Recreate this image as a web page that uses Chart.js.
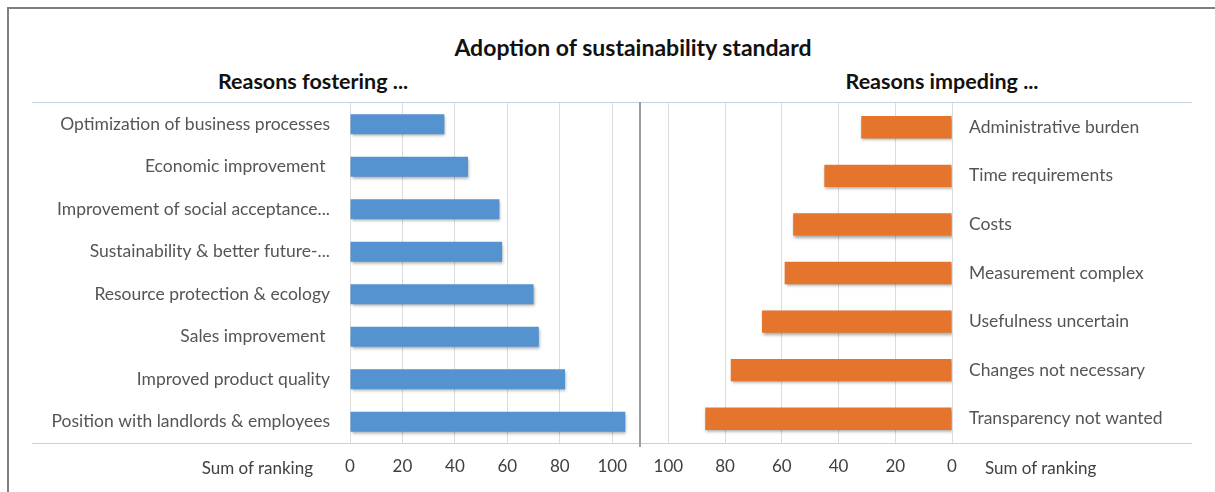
<!DOCTYPE html>
<html>
<head>
<meta charset="utf-8">
<script src="https://cdn.jsdelivr.net/npm/chart.js@4"></script>
<style>
    body { margin: 0; background: #fff; font-family: Lato, sans-serif; }
    #wrap { position: relative; width: 1215px; height: 492px; overflow: hidden; }
    .abs { position: absolute; }
    .frame { border-left: 2px solid #7f7f7f; border-top: 2px solid #7f7f7f; left: 7px; top: 7px; width: 1300px; height: 600px; }
    .hline { height: 1px; background: #c3d3e3; left: 32px; width: 1160px; }
    .head { font-weight: bold; color: #111; white-space: nowrap; transform: translateX(-50%); line-height: 1.2; }
    .axt { font-size: 17px; color: #404040; white-space: nowrap; }
</style>
</head>
<body>
<div id="wrap">
    <div class="abs frame"></div>
    <div class="abs head" style="left:633px; top:34px; font-size:23px;">Adoption of sustainability standard</div>
    <div class="abs head" style="left:313px; top:69px; font-size:21.5px;">Reasons fostering ...</div>
    <div class="abs head" style="left:942px; top:69px; font-size:21.5px;">Reasons impeding ...</div>

    <div class="abs" style="left:0; top:0;"><canvas id="leftChart" width="640" height="492"></canvas></div>
    <div class="abs" style="left:640px; top:0;"><canvas id="rightChart" width="575" height="492"></canvas></div>

    <div class="abs hline" style="top:102px;"></div>
    <div class="abs hline" style="top:443px;"></div>
    <div class="abs" style="left:639px; top:102px; width:2px; height:345px; background:#9d9d9d;"></div>

    <div class="abs axt" style="right:902px; top:457px;">Sum of ranking</div>
    <div class="abs axt" style="left:985px; top:457px;">Sum of ranking</div>
</div>

<script>
    // Data
    const fosterLabels = [
        'Optimization of business processes',
        'Economic improvement ',
        'Improvement of social acceptance...',
        'Sustainability & better future-...',
        'Resource protection & ecology',
        'Sales improvement ',
        'Improved product quality',
        'Position with landlords & employees'
    ];
    const fosterValues = [36, 45, 57, 58, 70, 72, 82, 105];

    const impedeLabels = [
        'Administrative burden',
        'Time requirements',
        'Costs',
        'Measurement complex',
        'Usefulness uncertain',
        'Changes not necessary',
        'Transparency not wanted'
    ];
    const impedeValues = [32, 45, 56, 59, 67, 78, 87];

    const tickValues = [0, 20, 40, 60, 80, 100];
    const axisMax = 110;

    // soft shadow under the bars
    const shadowPlugin = {
        id: 'barShadow',
        beforeDatasetsDraw(chart) {
            const ctx = chart.ctx;
            ctx.save();
            ctx.shadowColor = 'rgba(0,0,0,0.35)';
            ctx.shadowBlur = 3;
            ctx.shadowOffsetX = 1;
            ctx.shadowOffsetY = 2;
        },
        afterDatasetsDraw(chart) {
            chart.ctx.restore();
        }
    };

    function barFill(top, bottom) {
        return function(context) {
            const el = context.element;
            if (!el || el.y === undefined || !el.height) return bottom;
            const g = context.chart.ctx.createLinearGradient(0, el.y - el.height / 2, 0, el.y + el.height / 2);
            g.addColorStop(0, top);
            g.addColorStop(1, bottom);
            return g;
        };
    }

    function makeChart(id, labels, values, side) {
        const isLeft = side === 'left';
        const ctx = document.getElementById(id).getContext('2d');
        return new Chart(ctx, {
            type: 'bar',
            data: {
                labels: labels,
                datasets: [{
                    data: values,
                    backgroundColor: isLeft ? barFill('#72ace0', '#5592d0') : barFill('#f48a40', '#e5742c'),
                    borderWidth: 0,
                    categoryPercentage: 1,
                    barPercentage: isLeft ? 0.47 : 0.46
                }]
            },
            plugins: [shadowPlugin],
            options: {
                indexAxis: 'y',
                responsive: false,
                animation: false,
                layout: { padding: { top: 103, bottom: 0, left: 0, right: 0 } },
                plugins: {
                    legend: { display: false },
                    tooltip: { enabled: false }
                },
                scales: {
                    x: {
                        min: 0,
                        max: axisMax,
                        reverse: !isLeft,
                        afterBuildTicks(scale) {
                            scale.ticks = tickValues.map(v => ({ value: v }));
                        },
                        afterFit(scale) { scale.height = 49; },
                        grid: { color: '#dcdcdc', drawTicks: false },
                        border: { display: false },
                        ticks: {
                            padding: 13,
                            color: '#404040',
                            font: { family: 'Lato', size: 17 }
                        }
                    },
                    y: {
                        position: isLeft ? 'left' : 'right',
                        afterFit(scale) { scale.width = isLeft ? 350 : 263; },
                        grid: { display: false, drawTicks: false },
                        border: { display: false },
                        ticks: {
                            padding: isLeft ? 20 : 17,
                            color: '#555555',
                            font: { family: 'Lato', size: 17.5 }
                        }
                    }
                }
            }
        });
    }

    makeChart('leftChart', fosterLabels, fosterValues, 'left');
    makeChart('rightChart', impedeLabels, impedeValues, 'right');
</script>
</body>
</html>
